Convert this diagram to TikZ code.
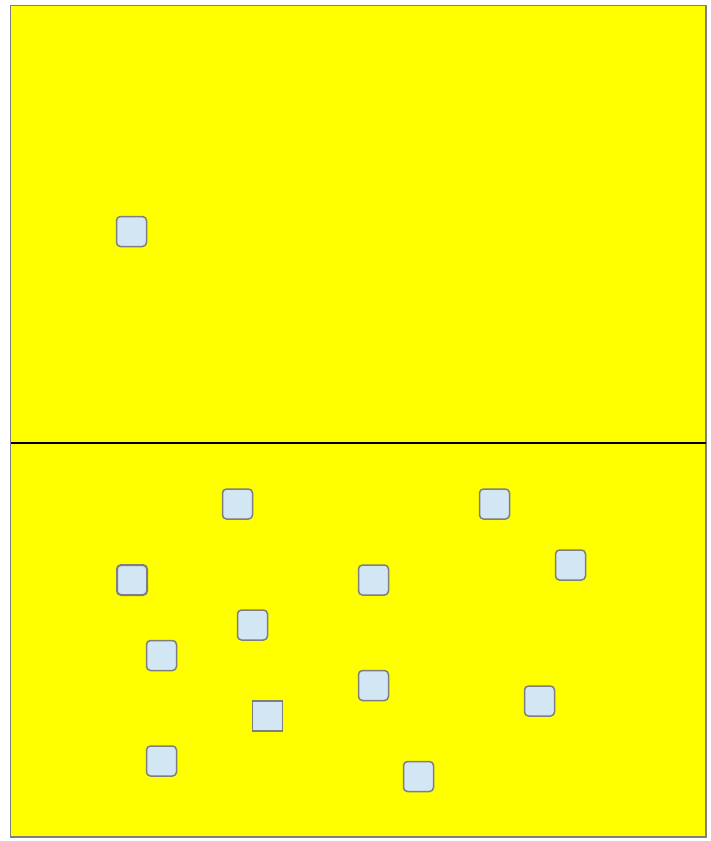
\documentclass[tikz,border=0pt]{standalone}
\begin{document}
\begin{tikzpicture}[x=1pt,y=-1pt,
  sq/.style={draw=boxgray,fill=boxblue,line width=1.5pt,rounded corners=4pt,minimum size=30pt,inner sep=0pt,anchor=center},
  sqsharp/.style={draw=boxgray,fill=boxblue,line width=1.5pt,minimum size=30pt,inner sep=0pt,anchor=center}]
\definecolor{boxblue}{RGB}{210,230,244}
\definecolor{boxgray}{RGB}{127,127,128}
\definecolor{bgyellow}{RGB}{255,255,0}
\useasboundingbox (0,0) rectangle (711,841);
\draw[draw=boxgray,fill=bgyellow,line width=1.5pt] (10.5,5.5) rectangle (706,837) ;
\coordinate (la) at (10.5,443);
\coordinate (lb) at (706,443);
\draw[black,line width=1.3pt] (la) -- (lb);
\node[sq] (s1) at (131.5,231.5) {};
\node[sq] (s2) at (237.5,504) {};
\node[sq] (s3) at (494.5,504) {};
\node[sq,line width=2pt] (s4) at (132,580) {};
\node[sq] (s5) at (373.5,580) {};
\node[sq] (s6) at (570.5,565) {};
\node[sq] (s7) at (252.5,625) {};
\node[sq] (s8) at (161.5,655.5) {};
\node[sq] (s9) at (373.5,685.5) {};
\node[sq] (s10) at (539.5,701) {};
\node[sqsharp] (s11) at (267.5,716) {};
\node[sq] (s12) at (161.5,761) {};
\node[sq] (s13) at (418.5,776.5) {};
\end{tikzpicture}
\end{document}
